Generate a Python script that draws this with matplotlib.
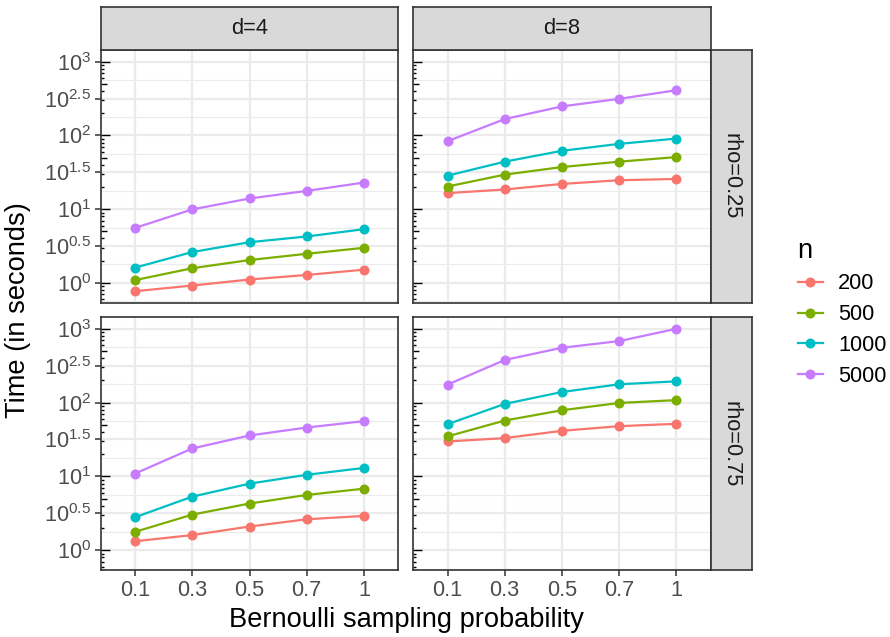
import numpy as np
import matplotlib
matplotlib.use("Agg")
import matplotlib.pyplot as plt
from matplotlib.ticker import FixedLocator, NullFormatter
from matplotlib.lines import Line2D
from matplotlib.transforms import blended_transform_factory

plt.rcParams['font.family'] = ['Liberation Sans', 'DejaVu Sans']
plt.rcParams['mathtext.fontset'] = 'custom'
plt.rcParams['mathtext.rm'] = 'Liberation Sans'
plt.rcParams['mathtext.it'] = 'Liberation Sans:italic'

probs = ["0.1", "0.3", "0.5", "0.7", "1"]
sizes = ["200", "500", "1000", "5000"]
dims = ["d=4", "d=8"]
rhos = ["rho=0.25", "rho=0.75"]
colors = ["#F8766D", "#7CAE00", "#00BFC4", "#C77CFF"]

# run times (seconds), rows follow sizes, columns follow probs
time_d4_r25 = [[0.77, 0.92, 1.11, 1.28, 1.51],
               [1.09, 1.58, 2.04, 2.48, 2.99],
               [1.61, 2.62, 3.56, 4.26, 5.35],
               [5.56, 9.93, 13.96, 17.7, 22.96]]
time_d8_r25 = [[16.5, 18.5, 22.0, 24.7, 25.7],
               [20.3, 29.4, 37.3, 44.1, 50.9],
               [28.5, 44.1, 61.9, 76.9, 90.8],
               [83.6, 167, 248, 314, 411]]
time_d4_r75 = [[1.32, 1.60, 2.09, 2.62, 2.91],
               [1.77, 3.03, 4.28, 5.60, 6.81],
               [2.79, 5.31, 7.96, 10.5, 13.0],
               [10.9, 23.9, 35.8, 45.9, 56.0]]
time_d8_r75 = [[29.7, 33.0, 41.4, 47.9, 51.5],
               [34.8, 57.1, 78.7, 98.8, 108],
               [50.9, 95.9, 139, 177, 194],
               [175, 378, 553, 681, 1000]]

panels = [[time_d4_r25, time_d8_r25], [time_d4_r75, time_d8_r75]]

W, H = 890, 637
fig = plt.figure(figsize=(W / 100, H / 100), dpi=100)
fig.patch.set_facecolor("white")

def add_px(x0, y0, x1, y1):
    return fig.add_axes([x0 / W, 1 - y1 / H, (x1 - x0) / W, (y1 - y0) / H])

col_x = [(100.7, 398.3), (413.2, 710.7)]
row_y = [(50.3, 302.7), (317.3, 570.0)]
grey20 = "#333333"
small = 15.7
big = 19.6

# shared log y range with 5% expansion
allv = np.log10(np.array(panels, dtype=float))
lo, hi = allv.min(), allv.max()
pad = 0.05 * (hi - lo)
ylo, yhi = lo - pad, hi + pad

major = np.arange(0, 3.01, 0.5)
minor = np.arange(-0.25, 3.3, 0.5)
minor = minor[(minor > ylo) & (minor < yhi)]

def fmt_exp(v):
    s = ("%g" % v)
    return r"$\mathregular{10^{%s}}$" % s

xpos = np.arange(1, len(probs) + 1)

for r in range(2):
    for c in range(2):
        x0, x1 = col_x[c]
        y0, y1 = row_y[r]
        ax = add_px(x0, y0, x1, y1)
        ax.set_facecolor("white")
        ax.set_yscale("log")
        ax.set_ylim(10 ** ylo, 10 ** yhi)
        ax.set_xlim(0.4, len(probs) + 0.6)
        ax.yaxis.set_major_locator(FixedLocator(10 ** major))
        ax.yaxis.set_minor_locator(FixedLocator(10 ** minor))
        ax.yaxis.set_minor_formatter(NullFormatter())
        ax.set_xticks(xpos)
        ax.grid(True, which="major", color="#EBEBEB", lw=1.6, zorder=0)
        ax.grid(True, which="minor", axis="y", color="#EBEBEB", lw=0.8, zorder=0)
        ax.set_axisbelow(True)
        ax.tick_params(which="minor", length=0)
        ax.tick_params(which="major", length=4, width=1.1, color=grey20,
                       labelsize=small, labelcolor="#4D4D4D", pad=3)
        if c == 0:
            ax.set_yticklabels([fmt_exp(v) for v in major])
        else:
            ax.tick_params(axis="y", which="major", length=0, labelleft=False)
        if r == 1:
            ax.set_xticklabels(probs)
        else:
            ax.tick_params(axis="x", which="major", length=0, labelbottom=False)
        for s in ax.spines.values():
            s.set_color(grey20)
            s.set_linewidth(1.2)
            s.set_zorder(5)

        data = panels[r][c]
        for i in range(len(sizes)):
            ax.plot(xpos, data[i], color=colors[i], lw=1.6, marker="o",
                    markersize=7.2, markeredgewidth=0, zorder=3)

        # log tick marks along the left edge
        tr = blended_transform_factory(ax.transAxes, ax.transData)
        pw = x1 - x0
        for k in range(-1, 4):
            for m in range(1, 10):
                v = m * 10.0 ** k
                if 10 ** ylo <= v <= 10 ** yhi:
                    L = 9 if m == 1 else (6 if m == 5 else 3)
                    ax.plot([0, L / pw], [v, v], transform=tr, color="black",
                            lw=1.0, solid_capstyle="butt", zorder=4)

        # facet strips
        if r == 0:
            sax = add_px(x0, 7.3, x1, y0)
            sax.set_facecolor("#D9D9D9")
            sax.set_xticks([])
            sax.set_yticks([])
            for s in sax.spines.values():
                s.set_color(grey20)
                s.set_linewidth(1.2)
            sax.text(0.5, 0.5, dims[c], ha="center", va="center",
                     fontsize=small, color="#1A1A1A", transform=sax.transAxes)
        if c == 1:
            sax = add_px(x1, y0, 752.0, y1)
            sax.set_facecolor("#D9D9D9")
            sax.set_xticks([])
            sax.set_yticks([])
            for s in sax.spines.values():
                s.set_color(grey20)
                s.set_linewidth(1.2)
            sax.text(0.5, 0.5, rhos[r], ha="center", va="center", rotation=-90,
                     fontsize=small, color="#1A1A1A", transform=sax.transAxes)

fig.text(18 / W, 1 - 310 / H, "Time (in seconds)", rotation=90, ha="center",
         va="center", fontsize=big)
fig.text(406 / W, 1 - 620 / H, "Bernoulli sampling probability", ha="center",
         va="center", fontsize=big)

handles = [Line2D([], [], color=col, lw=1.6, marker="o", markersize=7.2,
                  markeredgewidth=0) for col in colors]
leg = fig.legend(handles, sizes, title="n", loc="upper left",
                 bbox_to_anchor=(778 / W, 1 - 218 / H), frameon=False,
                 fontsize=small, title_fontsize=big, handlelength=1.15,
                 handletextpad=0.7, labelspacing=0.45, alignment="left")

fig.savefig("out.png", dpi=100)
